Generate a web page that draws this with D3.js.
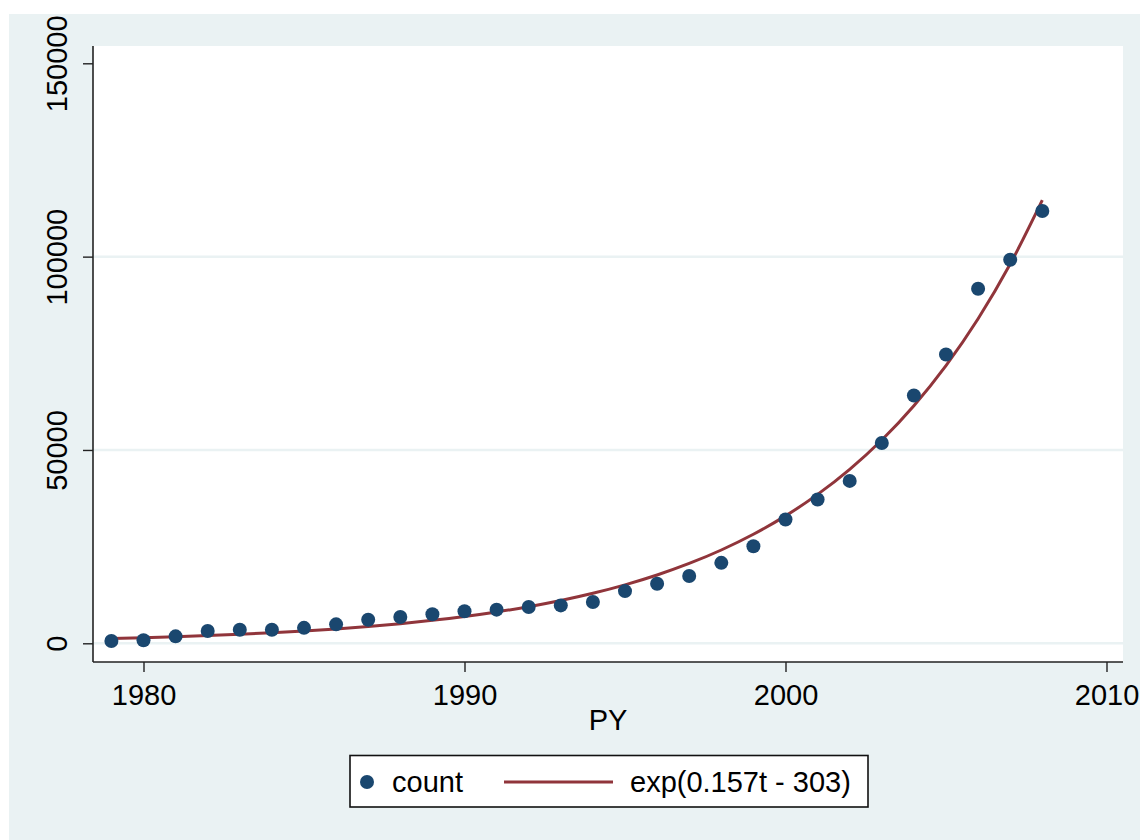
<!DOCTYPE html>
<html>
<head>
<meta charset="utf-8">
<script src="https://cdn.jsdelivr.net/npm/d3@7"></script>
<style>
  html, body { margin: 0; padding: 0; background: #ffffff; }
  svg { display: block; }
  text { font-family: "Liberation Sans", Arial, sans-serif; fill: #000; }
</style>
</head>
<body>
<svg id="chart" width="1140" height="840"></svg>
<script>
// ---- data ----
const years = [1979,1980,1981,1982,1983,1984,1985,1986,1987,1988,1989,1990,1991,1992,1993,1994,1995,1996,1997,1998,1999,2000,2001,2002,2003,2004,2005,2006,2007,2008];
const counts = [600,780,1800,3200,3500,3500,4000,4900,6100,6800,7500,8300,8700,9400,9800,10700,13500,15400,17400,20800,25100,32000,37200,42000,51800,64100,74700,91700,99200,111800];
const fitted = [1250,1461,1707,1995,2331,2724,3184,3720,4347,5080,5937,6938,8108,9475,11072,12939,15121,17670,20649,24131,28199,32953,38509,45002,52589,61456,71817,83926,98075,114611];
const xTicks = [1980,1990,2000,2010];
const yTicks = [0,50000,100000,150000];
const yGrid = [0,50000,100000];
const xTitle = "PY";
const legendLabels = ["count", "exp(0.157t - 303)"];

// ---- layout ----
const svg = d3.select("#chart");
const plot = {left: 93, right: 1123, top: 46, bottom: 662};
const navy = "#1a476f", maroon = "#90353b", bg = "#eaf2f3";
const fs = 29;

const x = d3.scaleLinear().domain([1980, 2010]).range([143.5, 1106.5]);
const y = d3.scaleLinear().domain([0, 150000]).range([643.3, 63.3]);

// outer background
svg.append("rect").attr("x", 9).attr("y", 14).attr("width", 1131).attr("height", 826).attr("fill", bg);
// plot region
svg.append("rect").attr("x", plot.left).attr("y", plot.top)
  .attr("width", plot.right - plot.left).attr("height", plot.bottom - plot.top).attr("fill", "#fff");

// gridlines
svg.append("g").selectAll("line").data(yGrid).join("line")
  .attr("x1", plot.left).attr("x2", plot.right)
  .attr("y1", d => y(d)).attr("y2", d => y(d))
  .attr("stroke", bg).attr("stroke-width", 2.5);

// fitted line
const line = d3.line().x((d, i) => x(years[i])).y(d => y(d)).curve(d3.curveMonotoneX);
svg.append("path").datum(fitted).attr("d", line)
  .attr("fill", "none").attr("stroke", maroon).attr("stroke-width", 3);

// points
svg.append("g").selectAll("circle").data(counts).join("circle")
  .attr("cx", (d, i) => x(years[i])).attr("cy", d => y(d)).attr("r", 7)
  .attr("fill", navy);

// axes
const yAxis = d3.axisLeft(y).tickValues(yTicks).tickSize(10).tickFormat(d3.format("d"));
const gy = svg.append("g").attr("transform", `translate(${plot.left},0)`).call(yAxis);
gy.select(".domain").attr("d", `M0,${plot.top}V${plot.bottom}`).attr("stroke", "#222").attr("stroke-width", 1.6);
gy.selectAll(".tick line").attr("stroke", "#222").attr("stroke-width", 1.4);
gy.selectAll(".tick text")
  .attr("x", null).attr("dy", null)
  .attr("transform", "translate(-26,0) rotate(-90)")
  .attr("text-anchor", "middle")
  .style("font-size", fs + "px")
  .style("font-family", "'Liberation Sans', Arial, sans-serif")
  .attr("fill", "#000");

const xAxis = d3.axisBottom(x).tickValues(xTicks).tickSize(10).tickFormat(d3.format("d"));
const gx = svg.append("g").attr("transform", `translate(0,${plot.bottom})`).call(xAxis);
gx.select(".domain").attr("d", `M${plot.left},0H${plot.right}`).attr("stroke", "#222").attr("stroke-width", 1.6);
gx.selectAll(".tick line").attr("stroke", "#222").attr("stroke-width", 1.4);
gx.selectAll(".tick text")
  .attr("y", 43).attr("dy", null)
  .style("font-size", fs + "px")
  .style("font-family", "'Liberation Sans', Arial, sans-serif")
  .attr("fill", "#000");
svg.selectAll(".domain").attr("fill", "none");

// x title
svg.append("text").attr("x", (plot.left + plot.right) / 2).attr("y", 730)
  .attr("text-anchor", "middle").style("font-size", fs + "px").text(xTitle);

// legend
const lg = svg.append("g");
lg.append("rect").attr("x", 350).attr("y", 755.5).attr("width", 518).attr("height", 51.5)
  .attr("fill", "#fff").attr("stroke", "#111").attr("stroke-width", 1.6);
lg.append("circle").attr("cx", 367).attr("cy", 782).attr("r", 7).attr("fill", navy);
lg.append("text").attr("x", 392).attr("y", 792).style("font-size", fs + "px").text(legendLabels[0]);
lg.append("line").attr("x1", 504).attr("x2", 613).attr("y1", 782).attr("y2", 782)
  .attr("stroke", maroon).attr("stroke-width", 3);
lg.append("text").attr("x", 630).attr("y", 792).style("font-size", fs + "px").text(legendLabels[1]);
</script>
</body>
</html>
